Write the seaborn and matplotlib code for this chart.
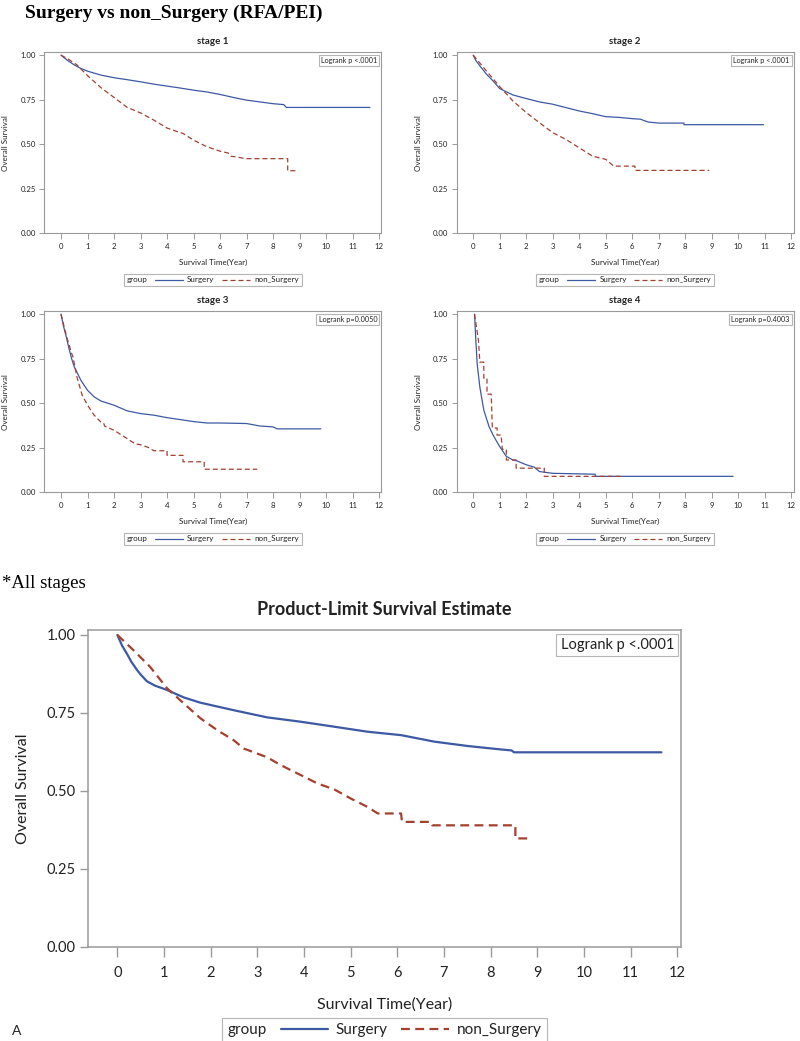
import matplotlib
matplotlib.use("Agg")
import matplotlib.pyplot as plt
import seaborn as sns
import pandas as pd
from matplotlib.lines import Line2D

# ---------------- data ----------------
groups = ["Surgery", "non_Surgery"]
xticks = list(range(0, 13))
yticks = [0.0, 0.25, 0.5, 0.75, 1.0]

s1_surg_t = [0, 0.25, 0.5, 0.75, 1.0, 1.5, 2.0, 2.5, 3.0, 3.5, 4.0, 4.5, 5.0, 5.5, 6.0, 6.5, 7.0, 7.5, 8.0, 8.4, 8.5, 11.65]
s1_surg_s = [1.0, 0.97, 0.945, 0.925, 0.91, 0.888, 0.873, 0.862, 0.85, 0.837, 0.826, 0.815, 0.803, 0.793, 0.779, 0.762, 0.747, 0.737, 0.727, 0.722, 0.706, 0.706]
s1_non_t = [0, 0.3, 0.6, 1.0, 1.5, 2.0, 2.5, 3.0, 3.5, 4.0, 4.5, 4.6, 5.0, 5.5, 6.0, 6.3, 6.4, 7.0, 8.55, 8.55, 8.9]
s1_non_s = [1.0, 0.975, 0.945, 0.885, 0.818, 0.762, 0.706, 0.675, 0.635, 0.59, 0.564, 0.56, 0.522, 0.485, 0.46, 0.45, 0.432, 0.418, 0.418, 0.35, 0.35]

s2_surg_t = [0, 0.1, 0.25, 0.5, 0.75, 1.0, 1.5, 2.0, 2.5, 3.0, 3.5, 4.0, 4.5, 5.0, 5.5, 6.0, 6.3, 6.6, 7.0, 7.95, 7.95, 10.95]
s2_surg_s = [1.0, 0.97, 0.94, 0.893, 0.855, 0.812, 0.776, 0.756, 0.737, 0.724, 0.705, 0.686, 0.671, 0.654, 0.65, 0.643, 0.64, 0.624, 0.618, 0.618, 0.609, 0.609]
s2_non_t = [0, 0.5, 1.0, 1.5, 2.0, 2.5, 3.0, 3.5, 4.0, 4.5, 5.0, 5.3, 6.1, 6.1, 8.9]
s2_non_s = [1.0, 0.911, 0.823, 0.742, 0.677, 0.62, 0.564, 0.526, 0.479, 0.432, 0.414, 0.376, 0.376, 0.352, 0.352]

s3_surg_t = [0, 0.1, 0.2, 0.3, 0.4, 0.5, 0.75, 1.0, 1.25, 1.5, 2.0, 2.5, 3.0, 3.5, 4.0, 4.5, 5.0, 5.5, 6.0, 7.0, 7.5, 8.0, 8.15, 9.8]
s3_surg_s = [1.0, 0.929, 0.872, 0.807, 0.75, 0.704, 0.628, 0.572, 0.535, 0.512, 0.488, 0.456, 0.441, 0.432, 0.418, 0.407, 0.396, 0.388, 0.388, 0.385, 0.371, 0.366, 0.355, 0.355]
s3_non_t = [0, 0.2, 0.4, 0.45, 0.6, 0.8, 1.0, 1.25, 1.5, 1.6, 1.65, 2.0, 2.5, 2.8, 3.0, 3.3, 3.5, 4.0, 4.0, 4.6, 4.6, 5.4, 5.4, 7.4]
s3_non_s = [1.0, 0.88, 0.78, 0.76, 0.647, 0.544, 0.488, 0.432, 0.394, 0.39, 0.37, 0.347, 0.30, 0.27, 0.266, 0.25, 0.232, 0.232, 0.206, 0.206, 0.17, 0.17, 0.128, 0.128]

s4_surg_t = [0.05, 0.1, 0.15, 0.25, 0.4, 0.5, 0.6, 0.75, 1.0, 1.25, 1.5, 1.65, 2.0, 2.3, 2.5, 3.0, 4.6, 4.6, 9.8]
s4_surg_s = [1.0, 0.85, 0.72, 0.59, 0.46, 0.413, 0.367, 0.32, 0.255, 0.2, 0.18, 0.175, 0.153, 0.14, 0.115, 0.105, 0.10, 0.088, 0.088]
s4_non_t = [0.05, 0.2, 0.25, 0.4, 0.4, 0.52, 0.52, 0.68, 0.72, 0.9, 0.9, 1.05, 1.1, 1.25, 1.25, 1.62, 1.62, 2.68, 2.68, 5.63]
s4_non_s = [1.0, 0.85, 0.73, 0.73, 0.64, 0.64, 0.55, 0.55, 0.36, 0.36, 0.32, 0.32, 0.24, 0.24, 0.18, 0.18, 0.134, 0.134, 0.088, 0.088]

all_surg_t = [0, 0.1, 0.2, 0.3, 0.42, 0.5, 0.63, 0.8, 1.06, 1.42, 1.78, 2.49, 3.21, 3.93, 4.65, 5.36, 6.08, 6.8, 7.52, 8.23, 8.45, 8.5, 11.66]
all_surg_s = [1.0, 0.966, 0.941, 0.914, 0.888, 0.873, 0.852, 0.838, 0.824, 0.80, 0.783, 0.759, 0.736, 0.722, 0.706, 0.69, 0.679, 0.658, 0.644, 0.633, 0.63, 0.624, 0.624]
all_non_t = [0, 0.34, 0.70, 1.06, 1.42, 1.78, 2.14, 2.49, 2.71, 3.21, 3.5, 3.93, 4.29, 4.65, 5.0, 5.36, 5.58, 6.08, 6.1, 6.72, 6.75, 8.53, 8.53, 8.87]
all_non_s = [1.0, 0.952, 0.898, 0.83, 0.781, 0.733, 0.695, 0.663, 0.636, 0.608, 0.583, 0.551, 0.524, 0.505, 0.476, 0.449, 0.428, 0.428, 0.401, 0.401, 0.39, 0.39, 0.348, 0.348]

stage_titles = ["stage 1", "stage 2", "stage 3", "stage 4"]
stage_pvals = ["Logrank p <.0001", "Logrank p <.0001", "Logrank p=0.0050", "Logrank p=0.4003"]
all_title = "Product-Limit Survival Estimate"
all_pval = "Logrank p <.0001"

# ---------------- style ----------------
sns.set_style("white")
plt.rcParams['font.family'] = ['Lato', 'DejaVu Sans']

BLUE = "#3D59A4"
RED = "#A5402F"
FRAME = "#9a9a9a"
TXT = "#222222"
DASH = (4, 2.4)

fig = plt.figure(figsize=(8.0, 10.41), dpi=100)


def panel(rect, st, ss, nt, ns, title, pval, big=False):
    ax = fig.add_axes(rect)
    df = pd.DataFrame({
        "time": list(st) + list(nt),
        "surv": list(ss) + list(ns),
        "group": [groups[0]] * len(st) + [groups[1]] * len(nt),
    })
    lw = 1.6 if big else 0.9
    sns.lineplot(data=df, x="time", y="surv", hue="group", style="group",
                 hue_order=groups, style_order=groups,
                 palette={groups[0]: BLUE, groups[1]: RED},
                 dashes={groups[0]: "", groups[1]: DASH},
                 estimator=None, sort=False, legend=False, linewidth=lw, ax=ax)
    ax.set_xlim(-0.63, 12.08)
    ax.set_ylim(0, 1.016)
    ax.set_xticks(xticks)
    ax.set_yticks(yticks)
    ax.set_yticklabels([f"{v:.2f}" for v in yticks])
    for sp in ax.spines.values():
        sp.set_visible(True)
        sp.set_color(FRAME)
        sp.set_linewidth(1.1 if big else 0.8)
    if big:
        fs_tick, fs_lab, fs_title, fs_leg, fs_p = 10.5, 11.5, 13, 11, 10.5
        ax.tick_params(axis="x", length=7, width=1, color=FRAME, pad=7, labelsize=fs_tick, labelcolor=TXT, direction="out", bottom=True)
        ax.tick_params(axis="y", length=6, width=1, color=FRAME, pad=3, labelsize=fs_tick, labelcolor=TXT, direction="out", left=True)
        ax.set_xlabel("Survival Time(Year)", fontsize=fs_lab, color=TXT, labelpad=12)
        ax.set_ylabel("Overall Survival", fontsize=fs_lab, color=TXT, labelpad=12)
        ty, legy, hl = 1.065, -0.262, 3.1
    else:
        fs_tick, fs_lab, fs_title, fs_leg, fs_p = 5.6, 5.8, 7.0, 5.8, 5.2
        ax.tick_params(axis="x", length=4.5, width=0.7, color=FRAME, pad=3, labelsize=fs_tick, labelcolor=TXT, direction="out", bottom=True)
        ax.tick_params(axis="y", length=3.5, width=0.7, color=FRAME, pad=2.5, labelsize=fs_tick, labelcolor=TXT, direction="out", left=True)
        ax.set_xlabel("Survival Time(Year)", fontsize=fs_lab, color=TXT, labelpad=6)
        ax.set_ylabel("Overall Survival", fontsize=fs_lab, color=TXT, labelpad=8)
        ty, legy, hl = 1.062, -0.26, 3.5
    ax.text(0.5, ty, title, transform=ax.transAxes, ha="center", va="center",
            fontsize=fs_title, fontweight="bold", color=TXT)
    ax.text(0.988, 0.975, pval, transform=ax.transAxes, ha="right", va="top",
            fontsize=fs_p, color=TXT,
            bbox=dict(boxstyle="square,pad=0.3", fc="white", ec="#b5b5b5", lw=0.8))
    handles = [Line2D([], [], color=BLUE, lw=lw),
               Line2D([], [], color=RED, lw=lw, ls=(0, DASH))]
    leg = ax.legend(handles, groups, title="group", loc="center",
                    bbox_to_anchor=(0.5, legy), ncol=2, frameon=True, fancybox=False,
                    fontsize=fs_leg, title_fontsize=fs_leg, handlelength=hl,
                    borderpad=0.35, columnspacing=0.9, handletextpad=0.5,
                    edgecolor="#b5b5b5", framealpha=1)
    leg.get_frame().set_linewidth(0.8)
    for t in leg.get_texts():
        t.set_color(TXT)
    leg.get_title().set_color(TXT)
    # put the "group" title inline, to the left of the entries
    c = leg.get_children()[0]
    title_box = c.get_children()[0]
    hpack = c.get_children()[1]
    c._children = [hpack]
    hpack._children = [title_box] + hpack.get_children()
    return ax


W, H = 800.0, 1041.0
sw, sh = 337 / W, 180.7 / H
panel([44.3 / W, 1 - 233 / H, sw, sh], s1_surg_t, s1_surg_s, s1_non_t, s1_non_s, stage_titles[0], stage_pvals[0])
panel([456.5 / W, 1 - 233 / H, sw, sh], s2_surg_t, s2_surg_s, s2_non_t, s2_non_s, stage_titles[1], stage_pvals[1])
panel([44.3 / W, 1 - 492 / H, sw, sh], s3_surg_t, s3_surg_s, s3_non_t, s3_non_s, stage_titles[2], stage_pvals[2])
panel([456.5 / W, 1 - 492 / H, sw, sh], s4_surg_t, s4_surg_s, s4_non_t, s4_non_s, stage_titles[3], stage_pvals[3])
panel([88 / W, 1 - 947 / H, 593 / W, 317 / H], all_surg_t, all_surg_s, all_non_t, all_non_s, all_title, all_pval, big=True)

fig.text(25 / W, 1 - 13 / H, "Surgery vs non_Surgery (RFA/PEI)", ha="left", va="center",
         fontsize=14, fontweight="bold", family=["Liberation Serif", "DejaVu Serif"], color="black")
fig.text(2 / W, 1 - 583 / H, "*All stages", ha="left", va="center",
         fontsize=13.5, family=["Liberation Serif", "DejaVu Serif"], color="black")
fig.text(12 / W, 1 - 1031 / H, "A", ha="left", va="center", fontsize=10, color=TXT)

fig.savefig("out.png", dpi=100, facecolor="white")
